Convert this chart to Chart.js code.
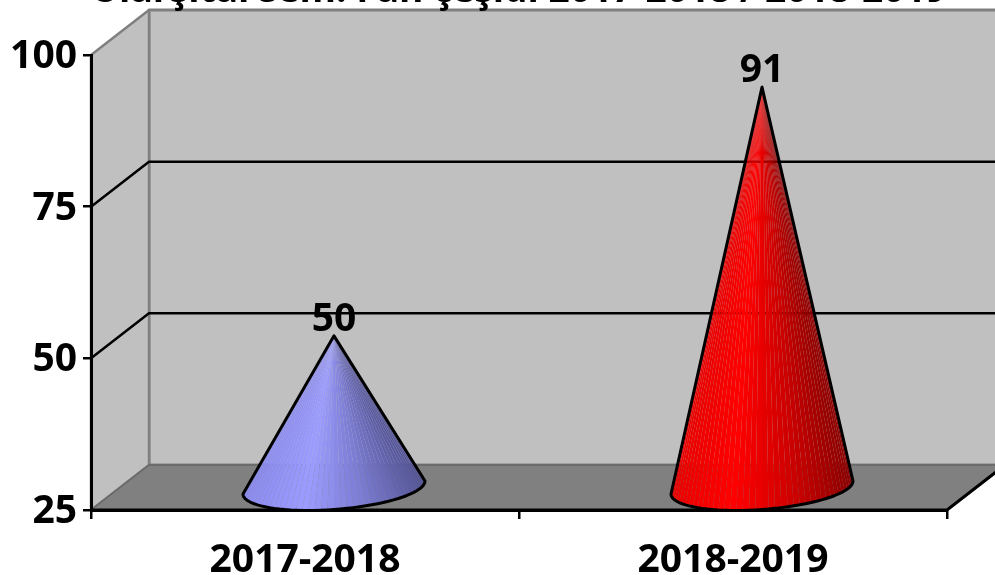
<!DOCTYPE html>
<html>
<head>
<meta charset="utf-8">
<title>Fan çeşidi</title>
<script src="https://cdn.jsdelivr.net/npm/chart.js@4"></script>
<style>
  html, body { margin: 0; padding: 0; background: #fff; overflow: hidden; }
  #wrap { width: 995px; height: 575px; }
</style>
</head>
<body>
<div id="wrap"><canvas id="myChart"></canvas></div>
<script>
const categories = ['2017-2018', '2018-2019'];
const values = [50, 91];
const yMin = 25;
const yMax = 100;
const yStep = 25;
const titleText = 'Ularşıtal sem. Fan çeşidi 2017-2018 / 2018-2019';

const FONT = '"Open Sans", sans-serif';

// 3D look: how far the back wall sits from the front axes
const depthX = 58;
const depthY = 45;

// cone base, sheared ellipse
const baseA = 91;
const baseB = 22;
const baseTilt = 6.5;
const facets = 44;

// shading left to right across each cone
const blueShade = [[140, 140, 240], [156, 156, 255], [124, 124, 210], [84, 84, 150]];
const redShade = [[232, 0, 0], [255, 0, 0], [208, 0, 0], [140, 0, 0]];
const shades = [blueShade, redShade];

function shadeAt(stops, f) {
  const p = Math.min(0.9999, Math.max(0, f)) * (stops.length - 1);
  const i = Math.floor(p);
  const k = p - i;
  const c = stops[i].map((v, n) => Math.round(v + (stops[i + 1][n] - v) * k));
  return `rgb(${c[0]},${c[1]},${c[2]})`;
}

function poly(ctx, pts) {
  ctx.beginPath();
  pts.forEach((p, i) => (i ? ctx.lineTo(p[0], p[1]) : ctx.moveTo(p[0], p[1])));
  ctx.closePath();
}

// walls and floor go under the axes
const wallsPlugin = {
  id: 'walls',
  beforeDraw(chart) {
    const { ctx, chartArea: a, scales } = chart;
    const y = scales.y;
    ctx.save();
    ctx.lineJoin = 'round';

    // back wall
    poly(ctx, [[a.left + depthX, a.top - depthY], [a.right + depthX, a.top - depthY],
      [a.right + depthX, a.bottom - depthY], [a.left + depthX, a.bottom - depthY]]);
    ctx.fillStyle = '#c0c0c0';
    ctx.fill();
    ctx.strokeStyle = '#808080';
    ctx.lineWidth = 3;
    ctx.stroke();

    // side wall
    poly(ctx, [[a.left, a.top], [a.left + depthX, a.top - depthY],
      [a.left + depthX, a.bottom - depthY], [a.left, a.bottom]]);
    ctx.fillStyle = '#c0c0c0';
    ctx.fill();
    ctx.strokeStyle = '#808080';
    ctx.lineWidth = 2.5;
    ctx.stroke();

    // floor
    poly(ctx, [[a.left, a.bottom], [a.right, a.bottom],
      [a.right + depthX, a.bottom - depthY], [a.left + depthX, a.bottom - depthY]]);
    ctx.fillStyle = '#808080';
    ctx.fill();
    ctx.strokeStyle = '#666666';
    ctx.lineWidth = 1.5;
    ctx.stroke();

    // gridlines, bent round the corner
    ctx.strokeStyle = '#000';
    ctx.lineWidth = 2.5;
    y.ticks.forEach(t => {
      if (t.value === yMin || t.value === yMax) return;
      const py = y.getPixelForValue(t.value);
      ctx.beginPath();
      ctx.moveTo(a.left, py);
      ctx.lineTo(a.left + depthX, py - depthY);
      ctx.lineTo(a.right + depthX, py - depthY);
      ctx.stroke();
    });

    // floor front edges
    ctx.lineWidth = 3;
    ctx.beginPath();
    ctx.moveTo(a.left, a.bottom);
    ctx.lineTo(a.right, a.bottom);
    ctx.lineTo(a.right + depthX, a.bottom - depthY);
    ctx.stroke();
    ctx.restore();
  }
};

// nudge the y labels down a little, the font sits high
const labelNudgePlugin = {
  id: 'labelNudge',
  afterLayout(chart) {
    chart.scales.y.getLabelItems().forEach(item => { item.options.translation[1] += 2; });
  }
};

// cones are placed from the bar elements
const conePlugin = {
  id: 'cones',
  afterDatasetsDraw(chart) {
    const { ctx, scales } = chart;
    const meta = chart.getDatasetMeta(0);
    const y0 = scales.y.getPixelForValue(yMin);

    meta.data.forEach((bar, i) => {
      const cx = bar.x + depthX / 2;
      const tipY = scales.y.getPixelForValue(values[i]) - depthY / 2;
      const cy = y0 - depthY / 2;
      const rim = t => [cx + baseA * Math.cos(t), cy + baseB * Math.sin(t) - baseTilt * Math.cos(t)];

      ctx.save();
      for (let n = 0; n < facets; n++) {
        const t1 = Math.PI * (1 - n / facets);
        const t2 = Math.PI * (1 - (n + 1) / facets);
        const p1 = rim(t1);
        const p2 = rim(t2);
        const f = ((p1[0] + p2[0]) / 2 - (cx - baseA)) / (2 * baseA);
        ctx.beginPath();
        ctx.moveTo(cx, tipY);
        ctx.lineTo(p1[0], p1[1]);
        ctx.lineTo(p2[0], p2[1]);
        ctx.closePath();
        ctx.fillStyle = shadeAt(shades[i], f);
        ctx.fill();
      }

      ctx.beginPath();
      ctx.moveTo(cx, tipY);
      for (let n = 0; n <= facets; n++) {
        const p = rim(Math.PI * (1 - n / facets));
        ctx.lineTo(p[0], p[1]);
      }
      ctx.closePath();
      ctx.strokeStyle = '#000';
      ctx.lineWidth = 3;
      ctx.lineJoin = 'round';
      ctx.stroke();

      ctx.fillStyle = '#000';
      ctx.font = 'bold 39px ' + FONT;
      ctx.textAlign = 'center';
      ctx.textBaseline = 'alphabetic';
      ctx.fillText(String(values[i]), cx, tipY - 5);
      ctx.restore();
    });
  }
};

const myChart = new Chart(document.getElementById('myChart').getContext('2d'), {
  type: 'bar',
  data: {
    labels: categories,
    datasets: [{ label: 'Fan', data: values, backgroundColor: 'transparent', borderWidth: 0 }]
  },
  options: {
    responsive: true,
    maintainAspectRatio: false,
    animation: false,
    layout: { padding: { left: 0, right: 48, top: 0, bottom: 0 } },
    plugins: {
      legend: { display: false },
      tooltip: { enabled: false },
      title: {
        display: true,
        text: titleText,
        color: '#000',
        fullSize: false,
        font: { family: FONT, size: 38, weight: 'bold', lineHeight: 1.2 },
        padding: { top: -32, bottom: 41.4 }
      }
    },
    scales: {
      x: {
        afterFit(scale) { scale.height = 65; },
        grid: { drawOnChartArea: false, color: '#000', lineWidth: 2.5, tickLength: 9, tickColor: '#000' },
        border: { display: true, color: '#000', width: 3 },
        ticks: { color: '#000', font: { family: FONT, size: 39, weight: 'bold' }, padding: 18, maxRotation: 0 }
      },
      y: {
        min: yMin,
        max: yMax,
        afterFit(scale) { scale.width = 91; },
        grid: { drawOnChartArea: false, color: '#000', lineWidth: 2.5, tickLength: 8, tickColor: '#000' },
        border: { display: true, color: '#000', width: 3 },
        ticks: { stepSize: yStep, color: '#000', font: { family: FONT, size: 39, weight: 'bold' }, padding: 6 }
      }
    }
  },
  plugins: [wallsPlugin, labelNudgePlugin, conePlugin]
});
</script>
</body>
</html>
